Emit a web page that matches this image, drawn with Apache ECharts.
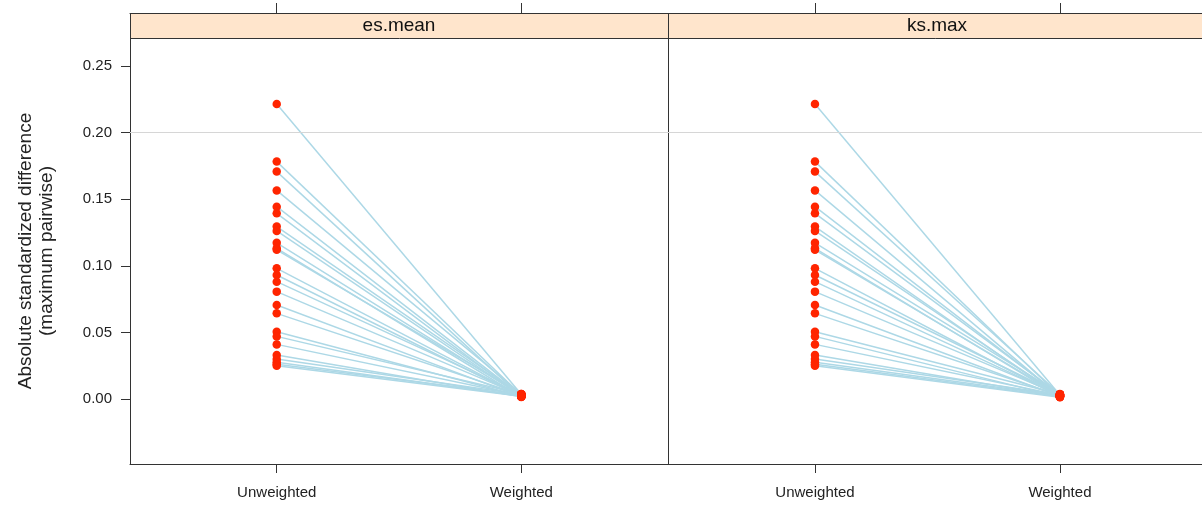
<!DOCTYPE html>
<html>
<head>
<meta charset="utf-8">
<script src="https://cdn.jsdelivr.net/npm/echarts@6/dist/echarts.min.js"></script>
<style>
  html, body { margin: 0; padding: 0; background: #fff; }
  #main { width: 1202px; height: 506px; }
</style>
</head>
<body>
<div id="main"></div>
<script>
// data
const categories = ['Unweighted', 'Weighted'];
const panels = ['es.mean', 'ks.max'];
const yTicks = [0, 0.05, 0.10, 0.15, 0.20, 0.25];

const esMeanUnweighted = [0.2215, 0.1782, 0.1707, 0.1566, 0.1444, 0.1394, 0.1294, 0.1262, 0.1172, 0.1131, 0.1120,
  0.0981, 0.0931, 0.0881, 0.0806, 0.0706, 0.0643, 0.0505, 0.0470, 0.0410, 0.0330, 0.0300, 0.0275, 0.0260, 0.0250];
const esMeanWeighted = [0.0035, 0.0030, 0.0020, 0.0038, 0.0025, 0.0018, 0.0032, 0.0022, 0.0028, 0.0015, 0.0036,
  0.0024, 0.0019, 0.0033, 0.0027, 0.0016, 0.0030, 0.0021, 0.0037, 0.0026, 0.0017, 0.0034, 0.0023, 0.0029, 0.0020];

const ksMaxUnweighted = [0.2215, 0.1782, 0.1707, 0.1566, 0.1444, 0.1394, 0.1294, 0.1262, 0.1172, 0.1131, 0.1120,
  0.0981, 0.0931, 0.0881, 0.0806, 0.0706, 0.0643, 0.0505, 0.0470, 0.0410, 0.0330, 0.0300, 0.0275, 0.0260, 0.0250];
const ksMaxWeighted = [0.0030, 0.0022, 0.0036, 0.0018, 0.0027, 0.0033, 0.0015, 0.0025, 0.0038, 0.0020, 0.0029,
  0.0017, 0.0034, 0.0023, 0.0031, 0.0019, 0.0026, 0.0036, 0.0016, 0.0028, 0.0021, 0.0032, 0.0024, 0.0018, 0.0013];

const panelData = [
  [esMeanUnweighted, esMeanWeighted],
  [ksMaxUnweighted, ksMaxWeighted],
];

const FONT = '"Liberation Sans", Arial, sans-serif';
const AXIS_COLOR = '#333';
// right panel runs off the edge of the picture, so it gets a shorter x range
const grids = [
  {left: 130, top: 38, width: 538, height: 426, xMax: 2.6},
  {left: 668, top: 38, width: 534, height: 426, xMax: 2.58},
];

const chart = echarts.init(document.getElementById('main'));

const xAxes = [];
const yAxes = [];
const series = [];
const graphics = [];

grids.forEach((g, i) => {
  // bottom axis with category names
  xAxes.push({
    type: 'value', gridIndex: i, min: 0.4, max: g.xMax, position: 'bottom',
    axisLine: {show: true, onZero: false, lineStyle: {color: AXIS_COLOR}},
    axisTick: {show: true, length: 9, customValues: [1, 2], lineStyle: {color: AXIS_COLOR}},
    axisLabel: {
      show: true, customValues: [1, 2], margin: 21,
      fontFamily: FONT, fontSize: 15, color: '#222',
      formatter: v => categories[Math.round(v) - 1],
    },
    splitLine: {show: false},
  });
  // top ticks above the strip
  xAxes.push({
    type: 'value', gridIndex: i, min: 0.4, max: g.xMax, position: 'top', offset: 25,
    axisLine: {show: true, onZero: false, lineStyle: {color: AXIS_COLOR}},
    axisTick: {show: true, length: 10, customValues: [1, 2], lineStyle: {color: AXIS_COLOR}},
    axisLabel: {show: false},
    splitLine: {show: false},
  });
  yAxes.push({
    type: 'value', gridIndex: i, min: -0.0488, max: 0.271,
    axisLine: {show: true, onZero: false, lineStyle: {color: AXIS_COLOR}},
    axisTick: {show: i === 0, length: 9, customValues: yTicks, lineStyle: {color: AXIS_COLOR}},
    axisLabel: {
      show: i === 0, customValues: yTicks, margin: 18,
      fontFamily: FONT, fontSize: 15, color: '#222',
      formatter: v => v.toFixed(2),
    },
    splitLine: {show: false},
    name: i === 0 ? 'Absolute standardized difference\n(maximum pairwise)' : '',
    nameLocation: 'middle',
    nameGap: 73,
    nameRotate: 90,
    nameTextStyle: {fontFamily: FONT, fontSize: 19, color: '#222', lineHeight: 21},
  });

  const [unw, wtd] = panelData[i];
  series.push({
    type: 'lines',
    coordinateSystem: 'cartesian2d',
    xAxisIndex: i * 2, yAxisIndex: i,
    silent: true,
    z: 2,
    lineStyle: {color: '#ADD8E6', width: 1.5, opacity: 1},
    data: unw.map((u, k) => ({coords: [[1, u], [2, wtd[k]]]})),
    markLine: {
      silent: true, symbol: 'none', label: {show: false},
      lineStyle: {color: '#d6d6d6', width: 1, type: 'solid'},
      data: [{yAxis: 0.2}],
    },
  });
  series.push({
    type: 'scatter',
    xAxisIndex: i * 2, yAxisIndex: i,
    z: 3,
    symbolSize: 8.5,
    itemStyle: {color: '#FF2500', opacity: 1},
    data: unw.map(u => [1, u]).concat(wtd.map(w => [2, w])),
  });

  // strip on top of each panel
  graphics.push({
    type: 'rect', left: g.left, top: 13,
    shape: {width: i === 1 ? 540 : g.width, height: 25},
    style: {fill: '#FFE5CC', stroke: AXIS_COLOR, lineWidth: 1},
    z: 0,
  });
  graphics.push({
    type: 'text', x: g.left + 269, y: 26,
    style: {text: panels[i], font: '19px ' + FONT, fill: '#111', textAlign: 'center', textVerticalAlign: 'middle'},
    z: 1,
  });
});

const option = {
  animation: false,
  backgroundColor: '#fff',
  // panel borders come from the axis lines, so the cut-off right edge stays open
  grid: grids.map(g => ({
    show: false, containLabel: false,
    left: g.left, top: g.top, width: g.width, height: g.height,
  })),
  xAxis: xAxes,
  yAxis: yAxes,
  series: series,
  graphic: graphics,
};
chart.setOption(option);
</script>
</body>
</html>
